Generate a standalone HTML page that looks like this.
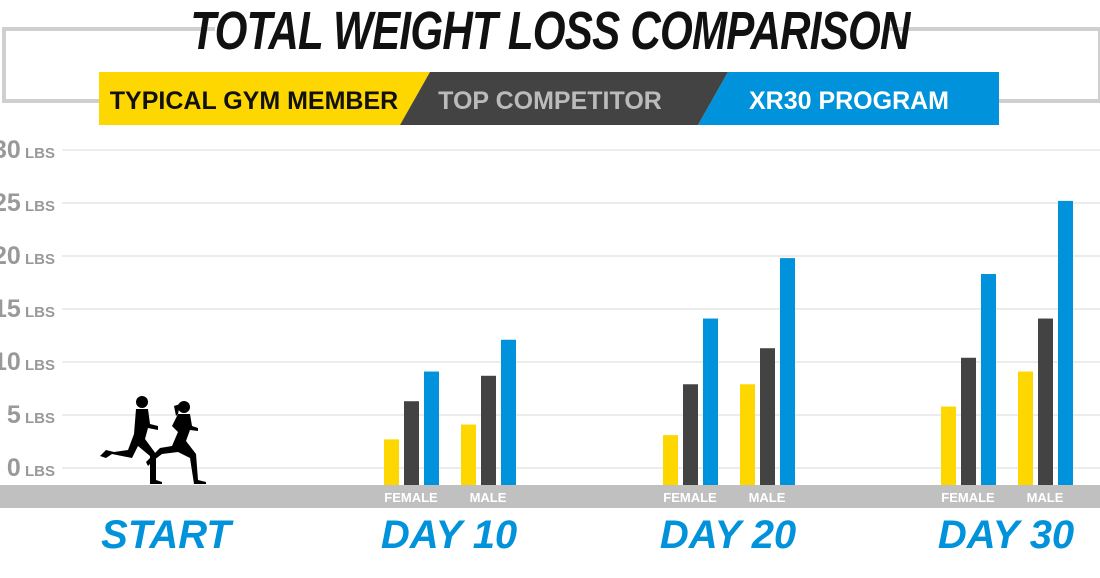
<!DOCTYPE html>
<html><head><meta charset="utf-8"><style>
body{margin:0;background:#fff;width:1100px;height:578px;overflow:hidden;position:relative;font-family:"Liberation Sans Narrow","Liberation Sans",sans-serif}
.t{position:absolute;white-space:nowrap}
</style></head><body>
<div style="position:absolute;left:2px;top:27px;width:1092px;height:68px;border:4px solid #cfcfcf"></div>
<div style="position:absolute;left:215px;top:0;width:670px;height:60px;background:#fff"></div>
<div class="t" style="left:0;width:1100px;text-align:center;top:0;font-size:54px;font-weight:bold;font-style:italic;color:#111;letter-spacing:-1px;transform:scaleX(0.78);">TOTAL WEIGHT LOSS COMPARISON</div>
<svg style="position:absolute;left:0;top:0" width="1100" height="130">
<polygon points="99,72 430,72 400,125 99,125" fill="#fed700"/>
<polygon points="430,72 728,72 698,125 400,125" fill="#434343"/>
<polygon points="728,72 999,72 999,125 698,125" fill="#0092da"/>
<text x="254" y="109" text-anchor="middle" font-family="Liberation Sans Narrow, Liberation Sans, sans-serif" font-weight="bold" font-size="25" fill="#111">TYPICAL GYM MEMBER</text>
<text x="550" y="109" text-anchor="middle" font-family="Liberation Sans Narrow, Liberation Sans, sans-serif" font-weight="bold" font-size="25" fill="#bbb">TOP  COMPETITOR</text>
<text x="849" y="109" text-anchor="middle" font-family="Liberation Sans Narrow, Liberation Sans, sans-serif" font-weight="bold" font-size="25" fill="#fff">XR30 PROGRAM</text>
</svg>
<svg id="chart" style="position:absolute;left:0;top:130" width="1100" height="448"></svg>
<script>
const ticks=[0,5,10,15,20,25,30];
const groups=["DAY 10","DAY 20","DAY 30"];
const subgroups=["FEMALE","MALE"];
const gym=[[2.7,4.1],[3.1,7.9],[5.8,9.1]];
const competitor=[[6.3,8.7],[7.9,11.3],[10.4,14.1]];
const xr30=[[9.1,12.1],[14.1,19.8],[18.3,25.2]];
const series=[gym,competitor,xr30];
const colors=["#fed700","#434343","#0092da"];
const seriesNames=["gym","competitor","xr30"];
const NS="http://www.w3.org/2000/svg";
const svg=document.getElementById("chart");
const off=130;
function y(v){return 468-10.6*v-off;}
const base=485-off;
const groupCenter=[449,728,1006];
function subCenter(g,s){return groupCenter[g]+(s===0?-38:39);}
function mk(tag,attrs){const e=document.createElementNS(NS,tag);for(const k in attrs)e.setAttribute(k,attrs[k]);svg.appendChild(e);return e;}
ticks.forEach(t=>{
 const l=mk("line",{x1:62,x2:1100,y1:y(t),y2:y(t),stroke:"#e6e6e6","stroke-width":1.5});
 
 
 const tx=mk("text",{x:55,y:y(t)+8,"text-anchor":"end","font-family":"Liberation Sans Narrow, Liberation Sans, sans-serif","font-size":15,fill:"#999","font-weight":"bold"});
 tx.innerHTML='<tspan font-size="25">'+t+'</tspan> LBS';
 
 
});
const axis=mk("rect",{x:0,y:base,width:1100,height:23,fill:"#c0c0c0"});


groups.forEach((g,gi)=>{
 subgroups.forEach((sg,si)=>{
  const c=subCenter(gi,si);
  series.forEach((ser,k)=>{
   const v=ser[gi][si];
   const r=mk("rect",{x:c-27+k*20,y:y(v),width:15,height:base-y(v),fill:colors[k]});
   
   
  });
  const lt=mk("text",{x:c,y:base+17,"text-anchor":"middle","font-family":"Liberation Sans Narrow, Liberation Sans, sans-serif","font-size":13,fill:"#fff","font-weight":"bold"});
  lt.textContent=sg;
  
  
 });
 const gt=mk("text",{x:groupCenter[gi],y:base+63,"text-anchor":"middle","font-family":"Liberation Sans Narrow, Liberation Sans, sans-serif","font-size":40,"font-style":"italic","font-weight":"bold",fill:"#0092da"});
 gt.textContent=g;
 
 
});
const st=mk("text",{x:166,y:base+63,"text-anchor":"middle","font-family":"Liberation Sans Narrow, Liberation Sans, sans-serif","font-size":40,"font-style":"italic","font-weight":"bold",fill:"#0092da"});
st.textContent="START";


</script>
<svg style="position:absolute;left:98px;top:394px" width="112" height="92" viewBox="0 0 112 92">
<g fill="#000">
<circle cx="44" cy="8" r="6"/>
<path d="M38 15 L50 15 L52 30 L60 32 L60 36 L50 34 L47 45 L58 60 L58 86 L64 88 L64 90 L52 90 L52 62 L40 52 L34 64 L14 60 L8 64 L2 62 L8 56 L16 58 L30 56 L36 40 Z"/>
<circle cx="86" cy="13" r="6"/>
<path d="M76 12 L82 10 L80 20 L78 22 Z"/>
<path d="M80 20 L92 20 L94 32 L100 34 L100 37 L92 36 L88 47 L98 60 L100 86 L108 88 L108 90 L96 90 L92 64 L80 58 L64 60 L56 66 L50 72 L48 68 L54 62 L62 54 L74 52 L80 38 L74 32 Z"/>
</g></svg>
</body></html>
